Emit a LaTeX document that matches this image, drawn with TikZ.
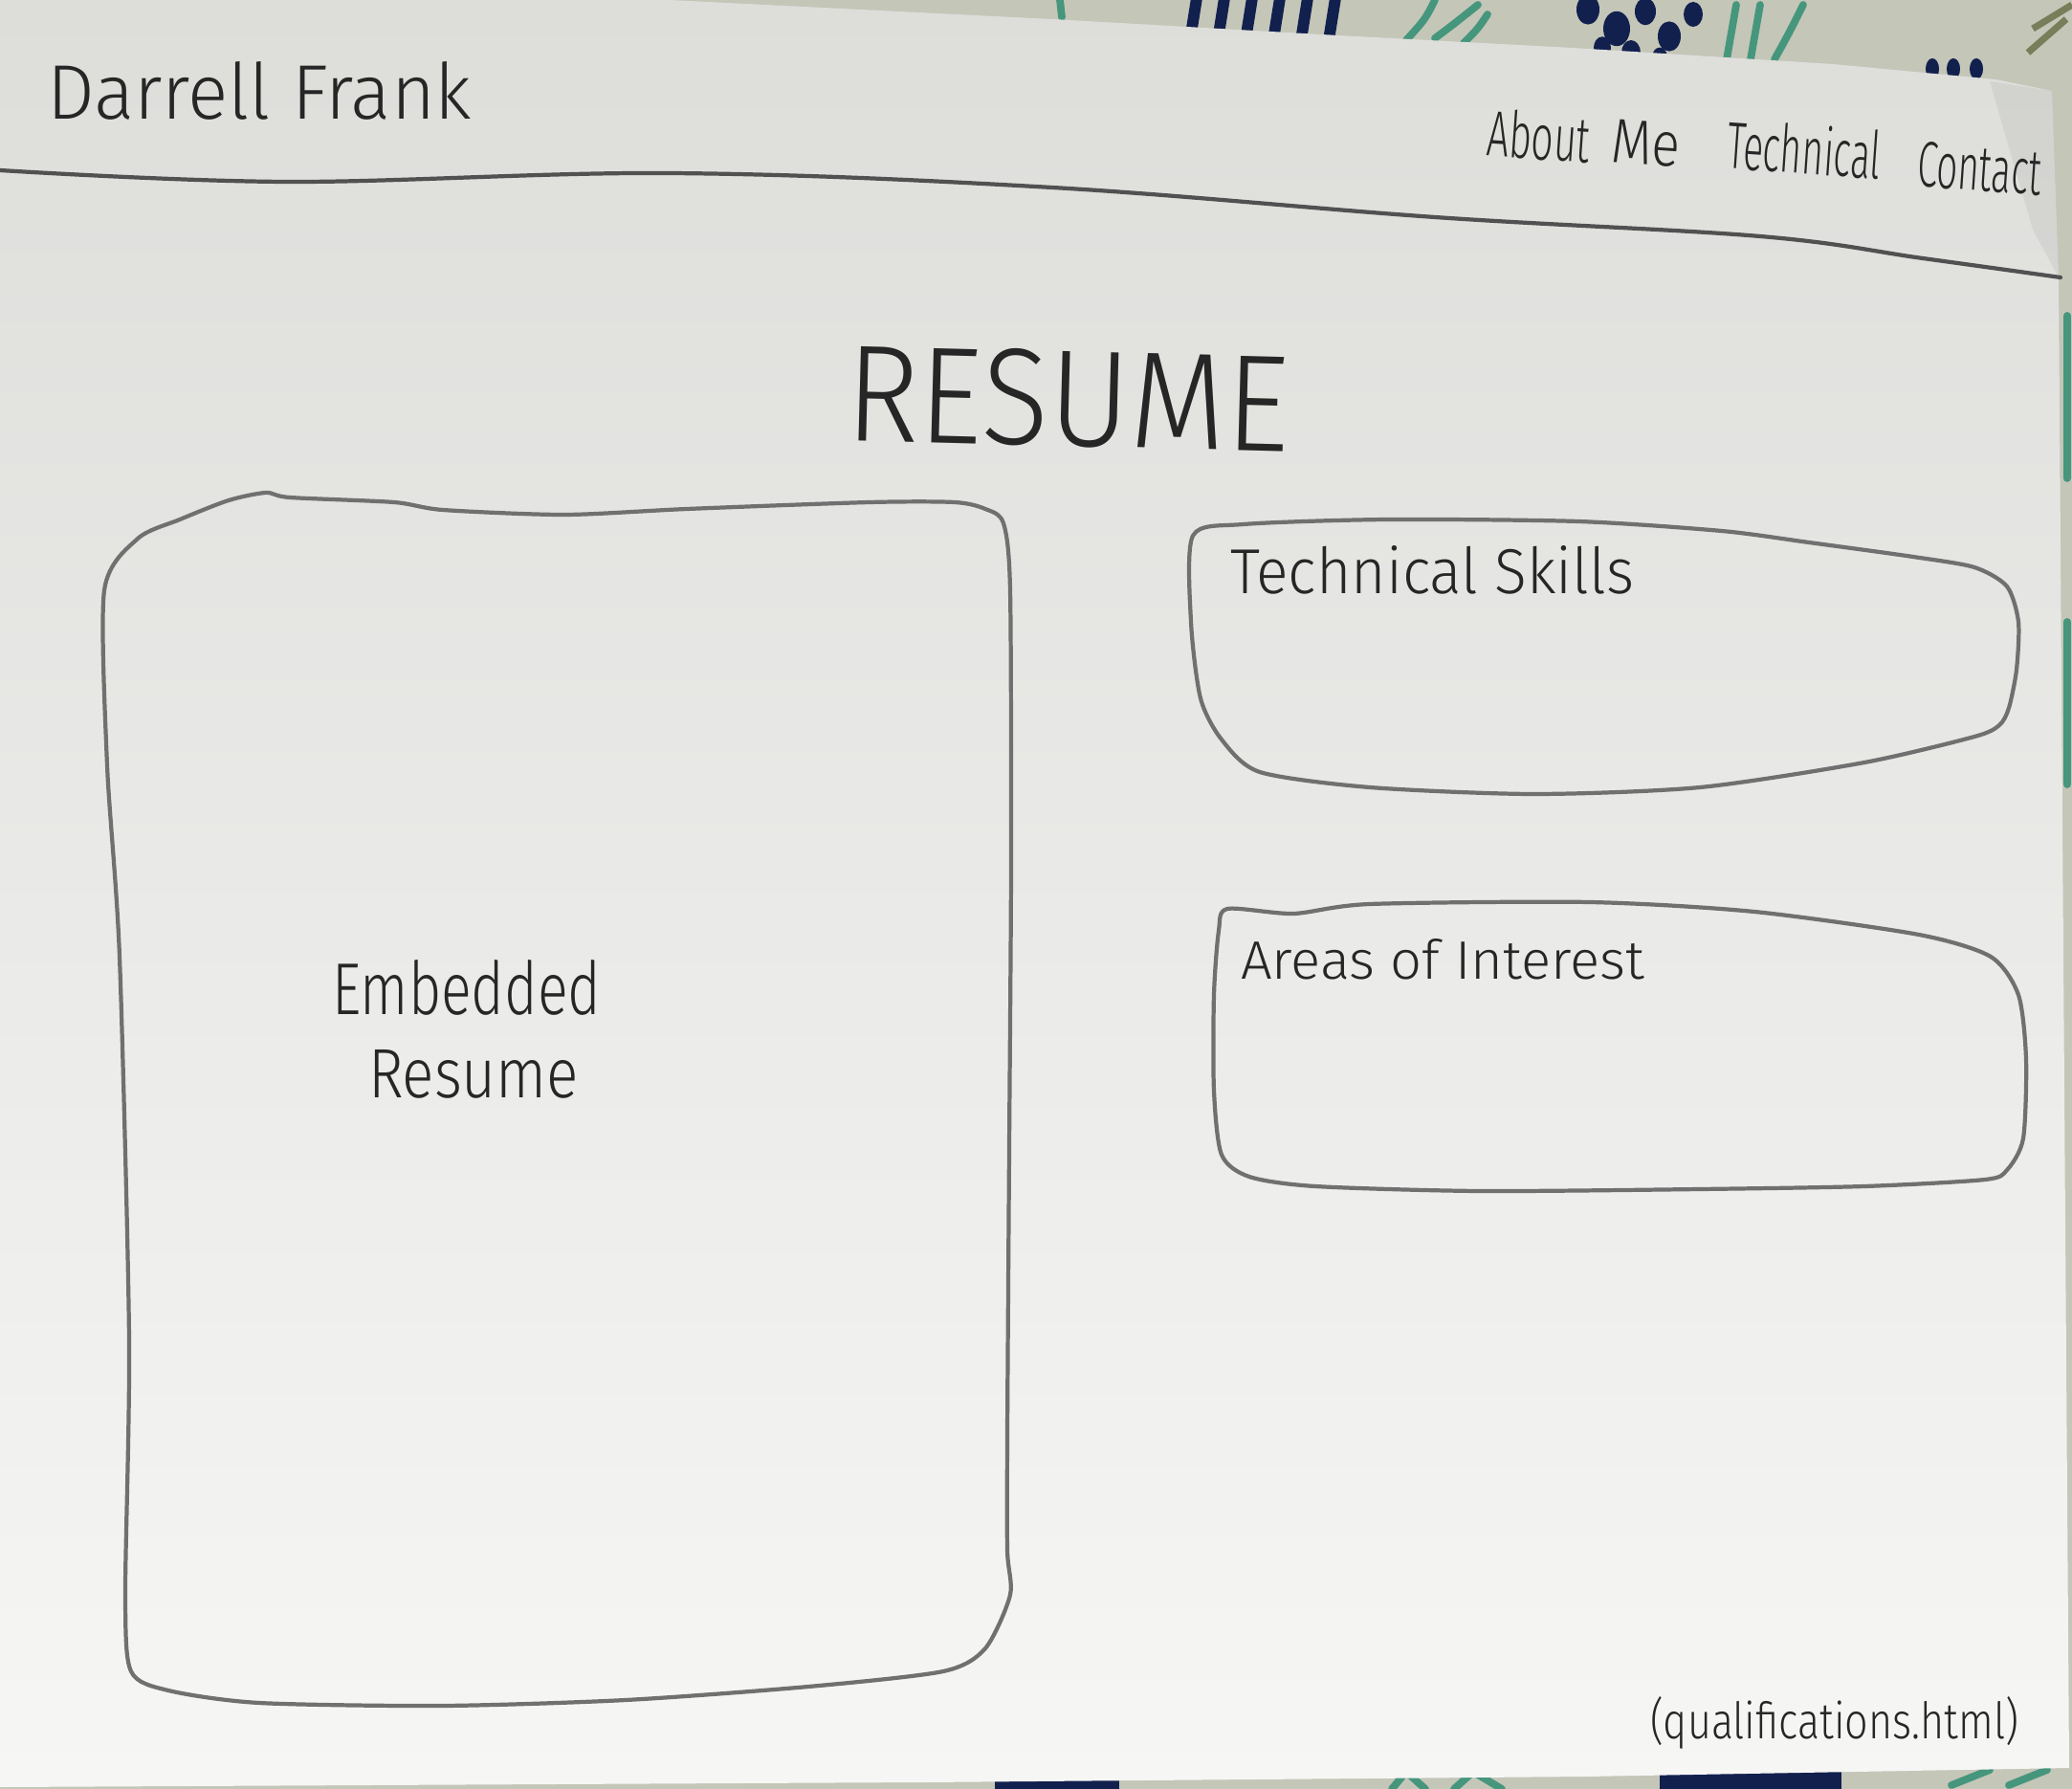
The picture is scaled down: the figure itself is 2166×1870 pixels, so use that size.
\documentclass[tikz,border=0pt]{standalone}
\usepackage{graphicx}
\usepackage{fontspec}
\newfontfamily\handfont{Fira Sans Light}
\usetikzlibrary{calc}

\definecolor{paperTop}{RGB}{221,221,218}
\definecolor{paperBot}{RGB}{246,246,245}
\definecolor{fabric}{RGB}{196,198,184}
\definecolor{fabricBlue}{RGB}{18,32,78}
\definecolor{fabricTeal}{RGB}{70,150,125}
\definecolor{fabricOlive}{RGB}{120,125,90}
\definecolor{pencil}{RGB}{112,112,112}
\definecolor{ink}{RGB}{38,38,38}

% word scaled to a given width and height (above the baseline)
\newcommand\sizedword[3]{\resizebox{#1}{#2}{#3}}

\tikzset{
  pencil/.style={draw=pencil, line width=1.2pt, line cap=round, line join=round},
  rule/.style={draw=ink!80, line width=1.2pt, line cap=round},
  hand/.style={inner sep=0pt, outer sep=0pt, text=ink, font=\handfont, anchor=base west},
  blob/.style={fill=fabricBlue, draw=none},
  leaf/.style={draw=fabricTeal, line width=2.2pt, line cap=round},
}

\begin{document}
\begin{tikzpicture}[x=0.01cm, y=-0.01cm]
\useasboundingbox (0,0) rectangle (2166,1870);

% fabric showing round the sheet
\fill[fabric] (0,0) rectangle (2166,1870);
\foreach \k in {0,...,5}
  \fill[fabricBlue] ({1245+\k*29},-2) -- ({1257+\k*29},-2) -- ({1250+\k*29},42) -- ({1238+\k*29},42) -- cycle;
\foreach \cx/\cy/\r in {1660/10/12, 1690/30/14, 1720/12/11, 1745/38/12, 1705/55/10, 1770/15/10, 1675/50/9, 1735/60/8}
  \fill[blob] (\cx,\cy) ellipse ({\r} and {\r*1.3});
\foreach \cx in {2020, 2042, 2066}
  \fill[blob] (\cx,72) ellipse (7 and 11);
\draw[leaf] (1108,0) -- (1110,18);
\draw[leaf] (1470,42) .. controls (1490,20) .. (1500,0);
\draw[leaf] (1500,40) .. controls (1520,25) .. (1545,5);
\draw[leaf] (1530,45) .. controls (1545,30) .. (1555,15);
\draw[leaf] (1805,62) -- (1815,5);
\draw[leaf] (1830,62) -- (1840,5);
\draw[leaf] (1855,62) .. controls (1870,35) .. (1885,5);
\draw[fabricOlive, line width=2pt] (2120,55) -- (2160,20);
\draw[fabricOlive, line width=2pt] (2125,30) -- (2166,5);
\fill[fabricBlue] (1040,1852) rectangle (1170,1870);
\fill[fabricBlue] (1735,1850) rectangle (1925,1870);
\draw[leaf] (1455,1870) -- (1470,1852) -- (1490,1870);
\draw[leaf] (1520,1870) -- (1540,1852) -- (1570,1870);
\draw[leaf] (2040,1866) -- (2080,1850);
\draw[leaf] (2100,1866) -- (2140,1850);
\draw[leaf] (2161,330) -- (2161,500);
\draw[leaf] (2161,650) -- (2161,820);

% the sheet of paper
\shade[top color=paperTop, bottom color=paperBot]
  (0,0) -- (700,0) -- (1100,20) -- (1399,37) -- (1644,50) -- (1916,67)
  -- (2086,83) -- (2145,95) -- (2152,290) -- (2163,1848) -- (1657,1857)
  -- (967,1863) -- (0,1868) -- cycle;
\fill[black, opacity=0.05] (2080,85) -- (2145,95) -- (2152,290) -- (2125,240) -- cycle;

% header rule
\draw[rule] plot[smooth, tension=0.6] coordinates
  {(0,178) (300,190) (700,181) (1100,196) (1500,227) (1840,247) (2010,270) (2154,290)};

% site title and navigation
\node[hand] (title) at (49,125) {\sizedword{4.44cm}{0.6cm}{Darrell Frank}};
\node[hand, rotate=-4] (navabout) at (1553,163) {\sizedword{1.08cm}{0.5cm}{About}};
\node[hand, rotate=-4] (navme) at (1683,170) {\sizedword{0.72cm}{0.45cm}{Me}};
\node[hand, rotate=-4] (navtech) at (1804,176) {\sizedword{1.61cm}{0.52cm}{Technical}};
\node[hand, rotate=-4] (navcontact) at (2003,195) {\sizedword{1.30cm}{0.47cm}{Contact}};

% page heading
\node[hand, rotate=-1.5] (heading) at (883,460) {\sizedword{4.64cm}{1.0cm}{RESUME}};

% embedded resume panel
\draw[pencil] plot[smooth cycle, tension=0.45] coordinates
  {(109,617) (144,563) (188,543) (239,523) (278,515) (303,520) (412,525) (463,533)
   (590,538) (718,532) (909,525) (998,525) (1030,532) (1049,547) (1056,617)
   (1057,900) (1055,1200) (1053,1500) (1053,1620) (1056,1667) (1030,1723)
   (986,1747) (845,1763) (654,1777) (463,1783) (271,1780) (176,1767) (137,1747)
   (131,1667) (135,1400) (125,1000) (112,800)};
\node[hand] (embedA) at (347,1060) {\sizedword{2.81cm}{0.57cm}{Embedded}};
\node[hand] (embedB) at (385,1147) {\sizedword{2.20cm}{0.50cm}{Resume}};

% technical skills panel
\draw[pencil] plot[smooth cycle, tension=0.45] coordinates
  {(1247,560) (1300,548) (1450,543) (1650,545) (1800,555) (1891,567) (2000,582)
   (2064,593) (2098,613) (2110,650) (2108,700) (2100,740) (2090,758) (2064,770)
   (1949,797) (1777,823) (1604,830) (1432,823) (1317,807) (1277,773) (1255,730)
   (1245,650)};
\node[hand] (skills) at (1286,620) {\sizedword{4.22cm}{0.5cm}{Technical Skills}};

% areas of interest panel
\draw[pencil] plot[smooth cycle, tension=0.45] coordinates
  {(1283,950) (1352,955) (1432,945) (1662,943) (1834,953) (2006,977) (2081,1000)
   (2110,1040) (2118,1107) (2115,1190) (2098,1223) (2075,1233) (1949,1240)
   (1777,1243) (1547,1245) (1375,1240) (1306,1230) (1277,1207) (1269,1140)
   (1269,1040) (1274,973)};
\node[hand] (interest) at (1297,1023) {\sizedword{4.22cm}{0.42cm}{Areas of Interest}};

% file name note
\node[hand] (filename) at (1725,1817) {\sizedword{3.85cm}{0.44cm}{(qualifications.html)}};
\end{tikzpicture}
\end{document}
